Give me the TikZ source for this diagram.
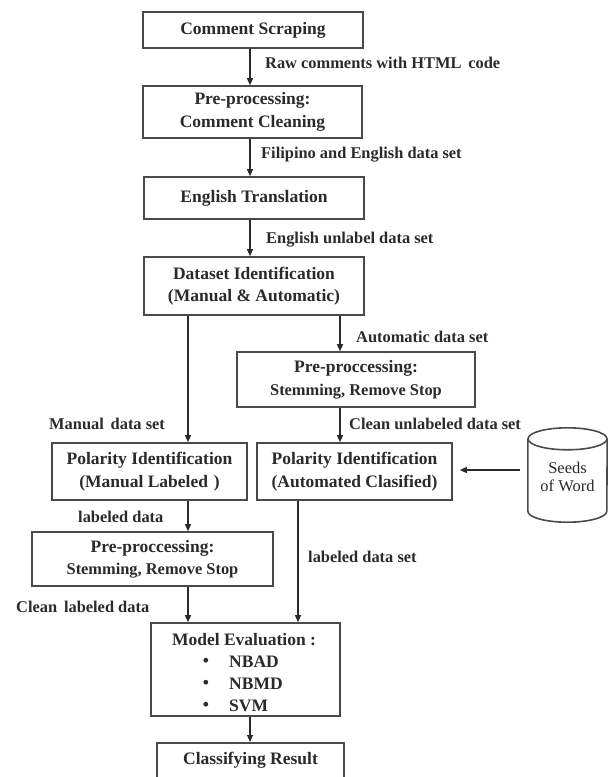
\documentclass[tikz,border=0pt]{standalone}
\usepackage{fontspec}
\setmainfont{Liberation Serif}
\usetikzlibrary{arrows.meta,calc}
\definecolor{lin}{HTML}{4A4A4A}
\definecolor{ink}{HTML}{2A2A2A}
\tikzset{
  box/.style={draw=lin, line width=1.6pt, rectangle, inner sep=0pt, align=center, text=ink,
              font=\bfseries\fontsize{17.5}{22.5}\selectfont},
  lbl/.style={anchor=west, inner sep=0pt, text=ink, font=\bfseries\fontsize{16.4}{19}\selectfont},
  txt/.style={inner sep=0pt, text=ink, font=\bfseries\fontsize{17.5}{22}\selectfont},
  arr/.style={draw=ink, line width=1.2pt, -{Triangle[length=7pt,width=6pt]}},
  ln/.style={draw=lin, line width=1.6pt}
}
\begin{document}
\begin{tikzpicture}[x=1pt,y=-1pt]
\useasboundingbox (0,0) rectangle (608,777);
\clip (0,0) rectangle (608,777);
% boxes
\node[box, minimum width=220pt, minimum height=36pt] (n1) at (253,30) {Comment Scraping};
\node[box, minimum width=219pt, minimum height=52pt] (n2) at (252.5,112) {Pre-processing:\\Comment Cleaning};
\node[box, minimum width=220pt, minimum height=42pt] (n3) at (254,198) {English Translation};
\node[box, minimum width=220pt, minimum height=58pt] (n4) at (254,286) {Dataset Identification\\(Manual \& Automatic)};
\node[box, minimum width=238pt, minimum height=55pt] (n5) at (356,379.5) {Pre-proccessing:\\{\fontsize{16.4}{20}\selectfont Stemming, Remove Stop}};
\node[box, minimum width=195pt, minimum height=57pt] (n6) at (149.5,471.5) {Polarity Identification\\(Manual Labeled\,\,)};
\node[box, minimum width=195pt, minimum height=57pt] (n7) at (354.5,471.5) {Polarity Identification\\(Automated Clasified)};
\node[box, minimum width=241pt, minimum height=54pt] (n8) at (152.5,559) {Pre-proccessing:\\{\fontsize{16.4}{20}\selectfont Stemming, Remove Stop}};
\node[box, minimum width=189pt, minimum height=93pt] (n9) at (245.5,669.5) {};
\node[box, minimum width=187pt, minimum height=60pt, anchor=north] (n10) at (250.5,742) {};
\node[txt] (cr) at (250.5,760) {Classifying Result};
% model evaluation text
\node[txt] (me) at (244,640) {Model Evaluation :};
\node[txt] (b1) at (206,662) {\textbullet};
\node[txt] (b2) at (206,684) {\textbullet};
\node[txt] (b3) at (206,706) {\textbullet};
\node[txt, anchor=west] (t1) at (229,662) {NBAD};
\node[txt, anchor=west] (t2) at (229,684) {NBMD};
\node[txt, anchor=west] (t3) at (229,706) {SVM};
% cylinder
\node[inner sep=0pt, minimum width=79pt, minimum height=94pt, align=center, text=ink,
      font=\fontsize{16.5}{18}\selectfont] (seeds) at (567.5,475) {\raisebox{-8pt}[0pt][0pt]{\begin{tabular}{@{}c@{}}Seeds\\of Word\end{tabular}}};
\draw[ln] ($(seeds.north)+(0,11)$) ellipse[x radius=39.5, y radius=11];
\draw[ln] ($(seeds.north west)+(0,11)$) -- ($(seeds.south west)+(0,-11)$)
  arc[start angle=180, end angle=0, x radius=39.5, y radius=11]
  -- ($(seeds.north east)+(0,11)$);
% helper x positions
\coordinate (xa) at (250,0);
\coordinate (xb) at (340,0);
\coordinate (xc) at (188,0);
\coordinate (xd) at (298,0);
% connectors
\draw[arr] (n1.south -| xa) -- (n2.north -| xa);
\draw[arr] (n2.south -| xa) -- (n3.north -| xa);
\draw[arr] (n3.south -| xa) -- (n4.north -| xa);
\draw[arr] (n4.south -| xb) -- (n5.north -| xb);
\draw[arr] (n5.south -| xb) -- (n7.north -| xb);
\draw[arr] (n4.south -| xc) -- (n6.north -| xc);
\draw[arr] (n6.south -| xc) -- (n8.north -| xc);
\draw[arr] (n8.south -| xc) -- (n9.north -| xc);
\draw[arr] (n7.south -| xd) -- (n9.north -| xd);
\draw[arr] (n9.south -| xa) -- (n10.north -| xa);
\draw[arr] ($(seeds.west |- n7.east)+(-8,-1.5)$) -- ($(n7.east)+(7,-1.5)$);
% labels
\node[lbl] (l1) at (265,63) {Raw comments with HTML\, code};
\node[lbl] (l2) at (261,155) {Filipino and English data set};
\node[lbl] (l3) at (266,240) {English unlabel data set};
\node[lbl] (l4) at (356,337) {Automatic data set};
\node[lbl] (l5) at (349,424) {Clean unlabeled data set};
\node[lbl] (l6) at (49,424) {Manual\, data set};
\node[lbl] (l7) at (78,517) {labeled data};
\node[lbl] (l8) at (308,557) {labeled data set};
\node[lbl] (l9) at (16,607) {Clean\, labeled data};
\end{tikzpicture}
\end{document}
